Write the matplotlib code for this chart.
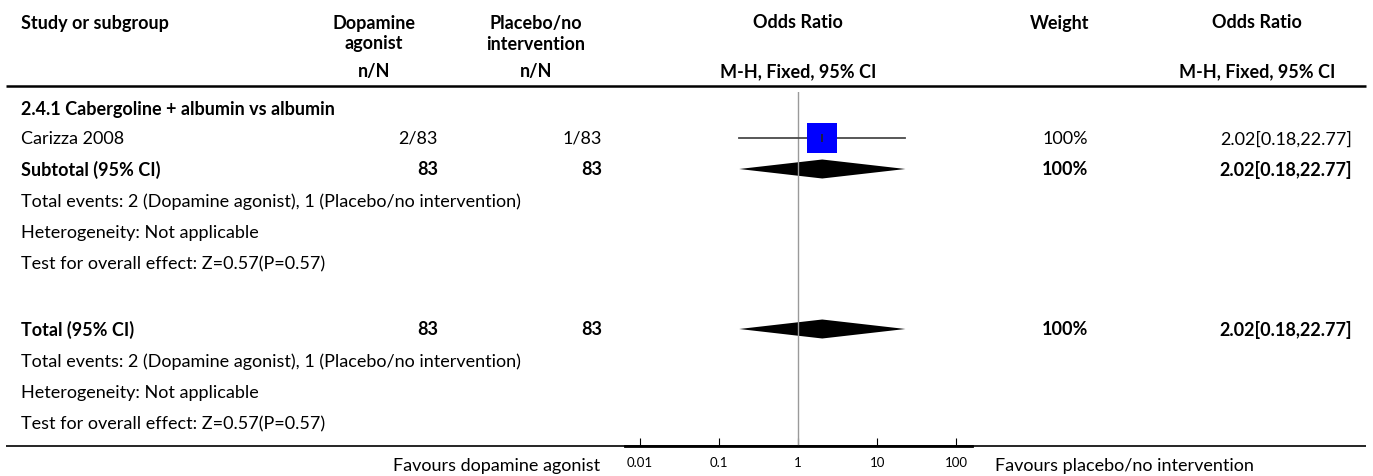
import matplotlib
matplotlib.use('Agg')
import matplotlib.pyplot as plt
import numpy as np

plt.rcParams['font.family'] = ['Lato', 'DejaVu Sans']

# data
group_title = '2.4.1 Cabergoline + albumin vs albumin'
studies = ['Carizza 2008']
events_da = [2]
total_da = [83]
events_pl = [1]
total_pl = [83]
or_est = [2.02]
ci_low = [0.18]
ci_high = [22.77]
weights = [100]

sub_or = 2.02
sub_low = 0.18
sub_high = 22.77
z_value = 0.57
p_value = 0.57

ticks = [0.01, 0.1, 1, 10, 100]
tick_labels = ['0.01', '0.1', '1', '10', '100']

W, H = 1373, 477
fig = plt.figure(figsize=(W / 100, H / 100), dpi=100)
ax = fig.add_axes([0, 0, 1, 1])
ax.set_xlim(0, W)
ax.set_ylim(H, 0)
ax.axis('off')

fs = 13
x_left = 21
c_da, r_da = 374, 438
c_pl, r_pl = 536, 602
c_w, r_w = 1060, 1088
c_or, r_or = 1257, 1352


def t(x, y, s, ha='left', bold=False, size=fs):
    ax.text(x, y, s, ha=ha, va='center', fontsize=size,
            fontweight='bold' if bold else 'normal', color='black')


# header
t(x_left, 23, 'Study or subgroup', bold=True)
t(c_da, 23, 'Dopamine', 'center', True)
t(c_da, 44, 'agonist', 'center', True)
t(c_pl, 23, 'Placebo/no', 'center', True)
t(c_pl, 44, 'intervention', 'center', True)
t(c_da, 72, 'n/N', 'center', True)
t(c_pl, 72, 'n/N', 'center', True)
t(798, 23, 'Odds Ratio', 'center', True)
t(798, 72, 'M-H, Fixed, 95% CI', 'center', True)
t(c_w, 23, 'Weight', 'center', True)
t(c_or, 23, 'Odds Ratio', 'center', True)
t(c_or, 72, 'M-H, Fixed, 95% CI', 'center', True)
ax.plot([6, 1366], [87, 87], color='black', lw=1.8, solid_capstyle='butt')

# rows
t(x_left, 109, group_title, bold=True)
y_study = 139
for i, name in enumerate(studies):
    y = y_study + i * 31
    t(x_left, y, name)
    t(r_da, y, f'{events_da[i]}/{total_da[i]}', 'right')
    t(r_pl, y, f'{events_pl[i]}/{total_pl[i]}', 'right')
    t(r_w, y, f'{weights[i]}%', 'right')
    t(r_or, y, f'{or_est[i]:.2f}[{ci_low[i]:.2f},{ci_high[i]:.2f}]', 'right')

ev_text = (f'Total events: {sum(events_da)} (Dopamine agonist), '
           f'{sum(events_pl)} (Placebo/no intervention)')
summary_rows = [(170, 'Subtotal (95% CI)'), (330, 'Total (95% CI)')]
for y, label in summary_rows:
    t(x_left, y, label, bold=True)
    t(r_da, y, f'{sum(total_da)}', 'right', True)
    t(r_pl, y, f'{sum(total_pl)}', 'right', True)
    t(r_w, y, f'{sum(weights)}%', 'right', True)
    t(r_or, y, f'{sub_or:.2f}[{sub_low:.2f},{sub_high:.2f}]', 'right', True)
    t(x_left, y + 32, ev_text)
    t(x_left, y + 63, 'Heterogeneity: Not applicable')
    t(x_left, y + 94, f'Test for overall effect: Z={z_value:.2f}(P={p_value:.2f})')

# bottom line and favours labels
ax.plot([6, 1366], [447, 447], color='black', lw=1.2, solid_capstyle='butt')
t(600, 466, 'Favours dopamine agonist', 'right')
t(995, 466, 'Favours placebo/no intervention')

# forest panel on a log scale
x0, x1 = 625, 972
y_top, y_bot = 93, 447
fa = fig.add_axes([x0 / W, (H - y_bot) / H, (x1 - x0) / W, (y_bot - y_top) / H])
fa.set_xscale('log')
fa.set_xlim(10 ** -2.19, 10 ** 2.2)
fa.set_ylim(y_bot, y_top)
fa.patch.set_visible(False)
for s in ['top', 'left', 'right']:
    fa.spines[s].set_visible(False)
fa.spines['bottom'].set_linewidth(2)
fa.set_yticks([])
fa.set_xticks(ticks)
fa.set_xticklabels(tick_labels, fontsize=9.5)
fa.minorticks_off()
fa.tick_params(axis='x', direction='in', length=6, width=0.8, pad=7)

fa.axvline(1, color='#9a9a9a', lw=1)

for i in range(len(studies)):
    y = y_study + i * 31
    fa.plot([ci_low[i], ci_high[i]], [y, y], color='#4a4a4a', lw=1.3)
    fa.plot(or_est[i], y, marker='s', color='#0000ff', markersize=22 * weights[i] / 100,
            markeredgewidth=0, linestyle='none')
    fa.plot(or_est[i], y, marker='|', color='#222222', markersize=6, markeredgewidth=1.2)

for y, _ in summary_rows:
    fa.fill([sub_low, sub_or, sub_high, sub_or], [y, y - 9.5, y, y + 9.5],
            color='black', lw=0)

fig.savefig('out.png', dpi=100)
